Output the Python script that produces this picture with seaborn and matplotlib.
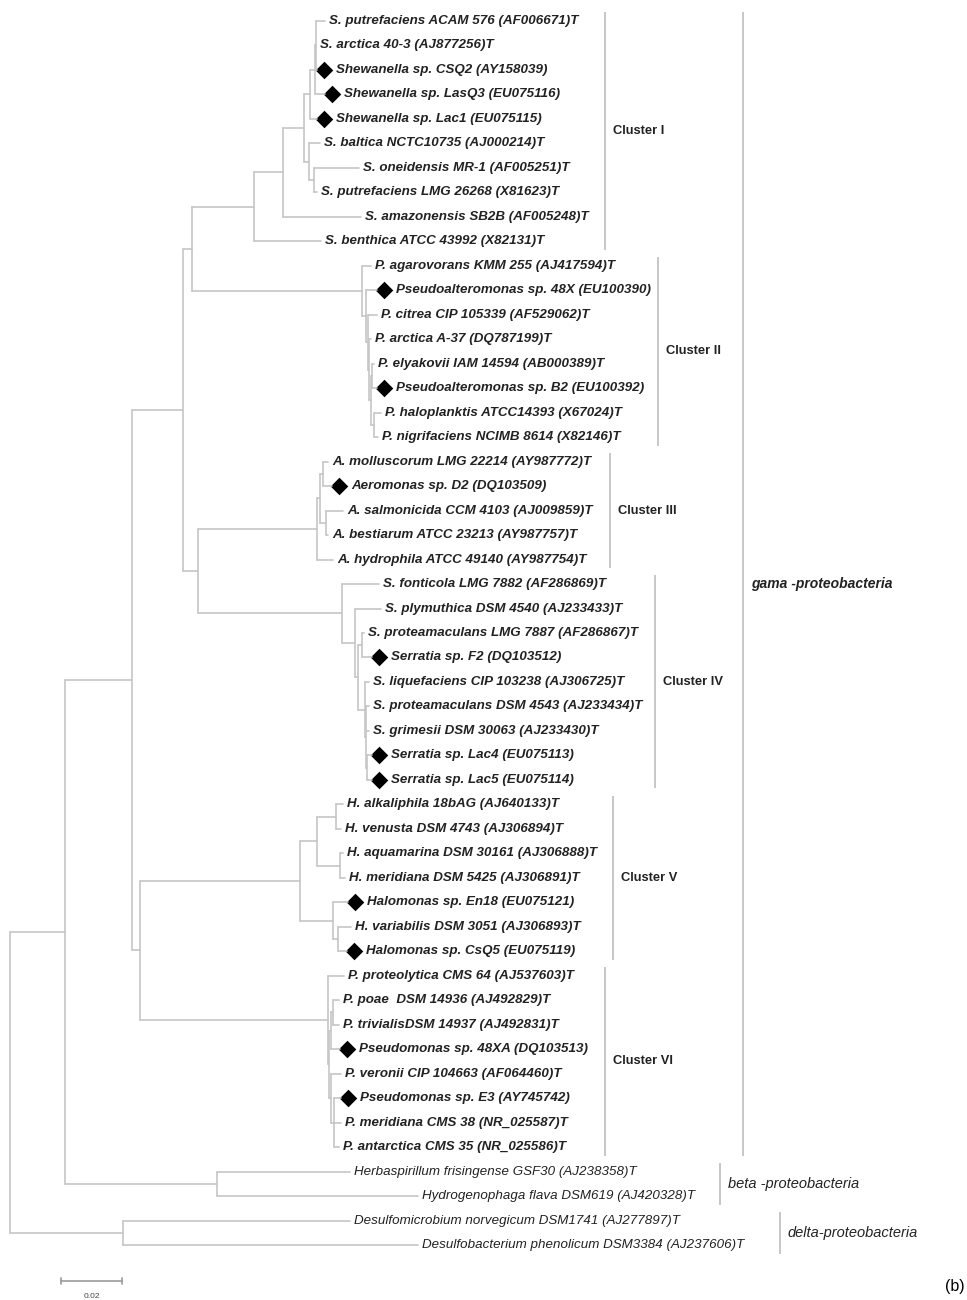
import numpy as np
import pandas as pd
import matplotlib
matplotlib.use('Agg')
import matplotlib.pyplot as plt
import seaborn as sns

# leaves, listed top to bottom
leaf_names = [
    'S. putrefaciens ACAM 576 (AF006671)T', 'S. arctica 40-3 (AJ877256)T',
    'Shewanella sp. CSQ2 (AY158039)', 'Shewanella sp. LasQ3 (EU075116)',
    'Shewanella sp. Lac1 (EU075115)', 'S. baltica NCTC10735 (AJ000214)T',
    'S. oneidensis MR-1 (AF005251)T', 'S. putrefaciens LMG 26268 (X81623)T',
    'S. amazonensis SB2B (AF005248)T', 'S. benthica ATCC 43992 (X82131)T',
    'P. agarovorans KMM 255 (AJ417594)T', 'Pseudoalteromonas sp. 48X (EU100390)',
    'P. citrea CIP 105339 (AF529062)T', 'P. arctica A-37 (DQ787199)T',
    'P. elyakovii IAM 14594 (AB000389)T', 'Pseudoalteromonas sp. B2 (EU100392)',
    'P. haloplanktis ATCC14393 (X67024)T', 'P. nigrifaciens NCIMB 8614 (X82146)T',
    'A. molluscorum LMG 22214 (AY987772)T', 'Aeromonas sp. D2 (DQ103509)',
    'A. salmonicida CCM 4103 (AJ009859)T', 'A. bestiarum ATCC 23213 (AY987757)T',
    'A. hydrophila ATCC 49140 (AY987754)T',
    'S. fonticola LMG 7882 (AF286869)T', 'S. plymuthica DSM 4540 (AJ233433)T',
    'S. proteamaculans LMG 7887 (AF286867)T', 'Serratia sp. F2 (DQ103512)',
    'S. liquefaciens CIP 103238 (AJ306725)T', 'S. proteamaculans DSM 4543 (AJ233434)T',
    'S. grimesii DSM 30063 (AJ233430)T', 'Serratia sp. Lac4 (EU075113)',
    'Serratia sp. Lac5 (EU075114)',
    'H. alkaliphila 18bAG (AJ640133)T', 'H. venusta DSM 4743 (AJ306894)T',
    'H. aquamarina DSM 30161 (AJ306888)T', 'H. meridiana DSM 5425 (AJ306891)T',
    'Halomonas sp. En18 (EU075121)', 'H. variabilis DSM 3051 (AJ306893)T',
    'Halomonas sp. CsQ5 (EU075119)',
    'P. proteolytica CMS 64 (AJ537603)T', 'P. poae  DSM 14936 (AJ492829)T',
    'P. trivialisDSM 14937 (AJ492831)T', 'Pseudomonas sp. 48XA (DQ103513)',
    'P. veronii CIP 104663 (AF064460)T', 'Pseudomonas sp. E3 (AY745742)',
    'P. meridiana CMS 38 (NR_025587)T', 'P. antarctica CMS 35 (NR_025586)T',
    'Herbaspirillum frisingense GSF30 (AJ238358)T', 'Hydrogenophaga flava DSM619 (AJ420328)T',
    'Desulfomicrobium norvegicum DSM1741 (AJ277897)T', 'Desulfobacterium phenolicum DSM3384 (AJ237606)T',
]
leaf_depth = [
    0.1033, 0.1003, 0.1007, 0.1033, 0.1007, 0.1016, 0.1144, 0.1007, 0.1151, 0.1020,
    0.1184, 0.1203, 0.1203, 0.1184, 0.1193, 0.1203, 0.1216, 0.1207,
    0.1043, 0.1056, 0.1092, 0.1043, 0.1059,
    0.1210, 0.1216, 0.1161, 0.1187, 0.1177, 0.1177, 0.1177, 0.1187, 0.1187,
    0.1092, 0.1085, 0.1092, 0.1098, 0.1108, 0.1118, 0.1105,
    0.1095, 0.1079, 0.1079, 0.1082, 0.1085, 0.1085, 0.1085, 0.1079,
    0.1115, 0.1338, 0.1115, 0.1338,
]
# isolates from this study (diamond)
marked = [2, 3, 4, 11, 15, 19, 26, 30, 31, 36, 38, 42, 44]
outgroup = [47, 48, 49, 50]

# internal nodes: depth from root and children (int = leaf index)
node_names = ['root', 'D', 'A', 'B', 'G', 'G1', 'G1a', 'C1', 'C1a', 'C1b', 'C1c',
              'C1d', 'C1h', 'C1e', 'C1f', 'C2', 'C2b', 'C2c', 'C2d', 'C2e', 'C2g',
              'C2h', 'G1b', 'C3', 'C3a', 'C3b', 'C3c', 'C4', 'C4a', 'C4b', 'C4c',
              'C4d', 'C4e', 'C4f', 'G2', 'C5', 'C5a', 'C5b', 'C5c', 'C5d', 'C5e',
              'C6', 'C6a', 'C6b', 'C6d', 'C6c', 'C6e']
node_depth = [0.0, 0.0370, 0.0180, 0.0679, 0.0400, 0.0567, 0.0597, 0.0800, 0.0895,
              0.0964, 0.0984, 0.1000, 0.1003, 0.0980, 0.0997, 0.1154, 0.1167, 0.1174,
              0.1177, 0.1184, 0.1187, 0.1193, 0.0616, 0.1007, 0.1016, 0.1026, 0.1036,
              0.1089, 0.1131, 0.1141, 0.1154, 0.1164, 0.1167, 0.1170, 0.0426, 0.0951,
              0.1007, 0.1069, 0.1082, 0.1059, 0.1075, 0.1043, 0.1046, 0.1052, 0.1059,
              0.1052, 0.1062]
node_kids = [['A', 'D'], [49, 50], ['G', 'B'], [47, 48], ['G1', 'G2'], ['G1a', 'G1b'],
             ['C1', 'C2'], ['C1a', 9], ['C1b', 8], ['C1c', 'C1e'], ['C1d', 4],
             ['C1h', 3], [0, 1, 2], [5, 'C1f'], [6, 7], [10, 'C2b'], [11, 'C2c'],
             [12, 'C2d'], [13, 'C2e'], ['C2g', 'C2h'], [14, 15], [16, 17],
             ['C3', 'C4'], ['C3a', 22], ['C3b', 'C3c'], [18, 19], [20, 21],
             [23, 'C4a'], [24, 'C4b'], ['C4c', 'C4d'], [25, 26], [27, 'C4e'],
             [28, 29, 'C4f'], [30, 31], ['C5', 'C6'], ['C5a', 'C5d'], ['C5b', 'C5c'],
             [32, 33], [34, 35], [36, 'C5e'], [37, 38], [39, 'C6a'], ['C6b', 'C6c'],
             ['C6d', 42], [40, 41], [43, 'C6e'], [44, 45, 46]]

clade_names = ['Cluster I', 'Cluster II', 'Cluster III', 'Cluster IV', 'Cluster V',
               'Cluster VI', 'gama -proteobacteria', 'beta -proteobacteria',
               'delta-proteobacteria']
clade_first = [0, 10, 18, 23, 32, 39, 0, 47, 49]
clade_last = [9, 17, 22, 31, 38, 46, 46, 48, 50]

scale_len = 0.02

# figure is laid out in pixel-like units of the original
def X(px):
    return (px - 10) / 3050

def Y(py):
    return (py - 21) / 24.48

depth = {i: d for i, d in enumerate(leaf_depth)}
depth.update(zip(node_names, node_depth))
kids = dict(zip(node_names, node_kids))
ypos = {i: float(i) for i in range(len(leaf_names))}

def place(n):
    if n not in ypos:
        ys = [place(k) for k in kids[n]]
        ypos[n] = (ys[0] + ys[-1]) / 2
    return ypos[n]

place('root')

rows = []
seg = 0
for n in node_names:
    ks = kids[n]
    rows += [(depth[n], ypos[ks[0]], seg), (depth[n], ypos[ks[-1]], seg)]
    seg += 1
    for k in ks:
        rows += [(depth[n], ypos[k], seg), (depth[k], ypos[k], seg)]
        seg += 1
segs = pd.DataFrame(rows, columns=['x', 'y', 'seg'])

sns.set_theme(style='white')
plt.rcParams['font.family'] = ['Liberation Sans', 'DejaVu Sans']

fig = plt.figure(figsize=(9.67, 13), dpi=100)
ax = fig.add_axes([0, 0, 1, 1])
sns.lineplot(data=segs, x='x', y='y', units='seg', estimator=None, sort=False,
             color='#c6c6c6', lw=1.2, ax=ax, legend=False)

# diamonds for own isolates
dia = pd.DataFrame({'x': [leaf_depth[i] + X(17) for i in marked],
                    'y': [float(i) for i in marked]})
sns.scatterplot(data=dia, x='x', y='y', marker='D', s=80, color='black',
                edgecolor='black', linewidth=0, ax=ax, legend=False)

for i, name in enumerate(leaf_names):
    if i in marked:
        tx = leaf_depth[i] + X(29)
    else:
        tx = leaf_depth[i] + X(14)
    if i in outgroup:
        ax.text(tx, i, name, fontsize=9.6, style='italic', va='center', ha='left',
                color='#222222')
    else:
        ax.text(tx, i, name, fontsize=9.6, style='italic', weight='bold',
                va='center', ha='left', color='#222222')

bar_px = [605, 658, 610, 655, 613, 605, 743, 720, 780]
for j, cname in enumerate(clade_names):
    y0 = clade_first[j] - 0.35
    y1 = clade_last[j] + 0.35
    ax.vlines(X(bar_px[j]), y0, y1, color='#bdbdbd', lw=1.2)
    ym = (clade_first[j] + clade_last[j]) / 2
    if j < 6:
        ax.text(X(bar_px[j] + 8), ym, cname, fontsize=9.3, weight='bold',
                va='center', ha='left', color='#222222')
    elif j == 6:
        ax.text(X(bar_px[j] + 8), ym, cname, fontsize=10, weight='bold', style='italic',
                va='center', ha='left', color='#222222')
    else:
        ax.text(X(bar_px[j] + 8), ym, cname, fontsize=10.5, style='italic',
                va='center', ha='left', color='#222222')

# scale bar
sb_y = Y(1281)
ax.plot([X(61), X(61) + scale_len], [sb_y, sb_y], color='#9a9a9a', lw=1.2)
for xx in [X(61), X(61) + scale_len]:
    ax.plot([xx, xx], [sb_y - 0.13, sb_y + 0.13], color='#9a9a9a', lw=1.2)
ax.text(X(61) + scale_len / 2, Y(1296), f'{scale_len:.2f}', fontsize=6,
        ha='center', va='center', color='#444444')
ax.text(X(955), Y(1287), '(b)', fontsize=11.5, ha='center', va='center', color='black')

ax.set_xlim(X(0), X(967))
ax.set_ylim(Y(1300), Y(0))
ax.axis('off')
fig.savefig('out.png', dpi=100)
